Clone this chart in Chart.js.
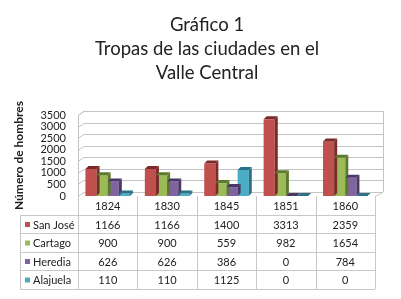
<!DOCTYPE html>
<html><head><meta charset="utf-8">
<script src="https://cdn.jsdelivr.net/npm/chart.js@4/dist/chart.umd.min.js"></script>
<style>html,body{margin:0;padding:0;background:#fff}#wrap{width:401px;height:299px}</style>
</head><body><div id="wrap"><canvas id="c" width="401" height="299"></canvas></div>
<script>
const titleLines = ["Gráfico 1", "Tropas de las ciudades en el", "Valle Central"];
const categories = ["1824", "1830", "1845", "1851", "1860"];
const seriesNames = ["San José", "Cartago", "Heredia", "Alajuela"];
const sanJose = [1166, 1166, 1400, 3313, 2359];
const cartago = [900, 900, 559, 982, 1654];
const heredia = [626, 626, 386, 0, 784];
const alajuela = [110, 110, 1125, 0, 0];
const yTicks = [0, 500, 1000, 1500, 2000, 2500, 3000, 3500];
const yTitle = "Número de hombres";

const fills = ["#c0504d", "#9bbb59", "#8064a2", "#4bacc6"];
const darks = ["#7a2a28", "#5d7a2c", "#4b3766", "#2a7185"];
const seriesValues = [sanJose, cartago, heredia, alajuela];
const FONT = "Lato, 'Open Sans', sans-serif";

const wallPlugin = {
  id: 'wall',
  beforeDatasetsDraw(chart) {
    const {ctx, chartArea: a, scales: {y}} = chart;
    ctx.save();
    ctx.strokeStyle = '#c4c4c4';
    ctx.lineWidth = 1;
    const dx = 6, dy = 4;
    yTicks.forEach(v => {
      const py = Math.round(y.getPixelForValue(v)) + 0.5;
      ctx.beginPath();
      ctx.moveTo(a.left, py);
      ctx.lineTo(a.left + dx, py - dy);
      ctx.lineTo(a.right + dx + 2, py - dy);
      ctx.stroke();
    });
    ctx.beginPath();
    ctx.moveTo(a.left + 0.5, a.bottom);
    ctx.lineTo(a.left + 0.5, a.top);
    ctx.lineTo(a.left + dx + 0.5, a.top - dy);
    ctx.stroke();
    ctx.beginPath();
    ctx.moveTo(a.right + dx + 2.5, a.bottom - dy);
    ctx.lineTo(a.right + dx + 2.5, a.top - dy);
    ctx.stroke();
    ctx.beginPath();
    ctx.moveTo(a.right, a.bottom + 0.5);
    ctx.lineTo(a.right + dx + 2, a.bottom - dy + 0.5);
    ctx.stroke();
    ctx.restore();
  },
  afterDatasetsDraw(chart) {
    const {ctx} = chart;
    const d = 3;
    ctx.save();
    chart.data.datasets.forEach((ds, i) => {
      const meta = chart.getDatasetMeta(i);
      meta.data.forEach(bar => {
        const p = bar.getProps(['x', 'y', 'base', 'width'], true);
        const l = p.x - p.width / 2, r = p.x + p.width / 2;
        ctx.fillStyle = darks[i];
        ctx.beginPath();
        ctx.moveTo(r, p.y); ctx.lineTo(r + d, p.y - d); ctx.lineTo(r + d, p.base - d); ctx.lineTo(r, p.base);
        ctx.closePath(); ctx.fill();
        ctx.beginPath();
        ctx.moveTo(l, p.y); ctx.lineTo(l + d, p.y - d); ctx.lineTo(r + d, p.y - d); ctx.lineTo(r, p.y);
        ctx.closePath(); ctx.fill();
      });
    });
    ctx.restore();
  }
};

const tablePlugin = {
  id: 'table',
  afterDraw(chart) {
    const {ctx, chartArea: a, scales: {x}} = chart;
    ctx.save();
    ctx.fillStyle = '#222';
    ctx.textAlign = 'center';
    ctx.textBaseline = 'middle';
    ctx.font = "18.5px " + FONT;
    const tc = 207;
    [25, 49, 73].forEach((yy, i) => ctx.fillText(titleLines[i], tc, yy));

    const rowTops = [196, 215, 233, 252, 270, 289];
    const legendLeft = 20;
    const colW = (a.right - a.left) / categories.length;
    ctx.strokeStyle = '#c8c8c8';
    ctx.lineWidth = 1;
    for (let r = 1; r < rowTops.length; r++) {
      ctx.beginPath();
      ctx.moveTo(legendLeft, rowTops[r] + 0.5);
      ctx.lineTo(a.right, rowTops[r] + 0.5);
      ctx.stroke();
    }
    for (let c = 0; c <= categories.length; c++) {
      const px = Math.round(a.left + c * colW) + 0.5;
      ctx.beginPath();
      ctx.moveTo(px, rowTops[0]);
      ctx.lineTo(px, rowTops[5]);
      ctx.stroke();
    }
    ctx.beginPath();
    ctx.moveTo(legendLeft + 0.5, rowTops[1]);
    ctx.lineTo(legendLeft + 0.5, rowTops[5]);
    ctx.stroke();

    ctx.font = "11px " + FONT;
    ctx.fillStyle = '#222';
    ctx.textAlign = 'center';
    categories.forEach((c, i) => {
      const px = x.getPixelForValue(i);
      ctx.fillText(c, px, (rowTops[0] + rowTops[1]) / 2 + 1);
    });
    seriesNames.forEach((name, s) => {
      const cy = (rowTops[s + 1] + rowTops[s + 2]) / 2 + 1;
      ctx.fillStyle = fills[s];
      ctx.fillRect(legendLeft + 5, cy - 3, 5, 5);
      ctx.fillStyle = '#222';
      ctx.textAlign = 'left';
      ctx.fillText(name, legendLeft + 13, cy);
      ctx.textAlign = 'center';
      seriesValues[s].forEach((v, i) => {
        ctx.fillText(String(v), x.getPixelForValue(i), cy);
      });
    });
    ctx.restore();
  }
};

new Chart(document.getElementById('c'), {
  type: 'bar',
  data: {
    labels: categories,
    datasets: seriesNames.map((n, i) => ({
      label: n,
      data: seriesValues[i],
      backgroundColor: fills[i],
      borderWidth: 0,
      categoryPercentage: 0.75,
      barPercentage: 1.0
    }))
  },
  options: {
    responsive: false,
    animation: false,
    devicePixelRatio: 1,
    layout: {padding: {top: 115, bottom: 103, left: 10, right: 26}},
    plugins: {legend: {display: false}, title: {display: false}, tooltip: {enabled: false}},
    scales: {
      x: {
        ticks: {display: false},
        grid: {display: false, drawTicks: false},
        border: {display: false}
      },
      y: {
        min: yTicks[0], max: yTicks[yTicks.length - 1],
        afterFit(scale) { scale.width = 68; },
        ticks: {
          color: '#222', font: {family: FONT, size: 11}, padding: 12,
          stepSize: yTicks[1] - yTicks[0], autoSkip: false,
          callback: v => String(v)
        },
        grid: {display: false, drawTicks: false},
        border: {display: false},
        title: {display: true, text: yTitle, color: '#222', font: {family: FONT, size: 12, weight: 'bold'}, padding: 2}
      }
    }
  },
  plugins: [wallPlugin, tablePlugin]
});
</script>
</body></html>
